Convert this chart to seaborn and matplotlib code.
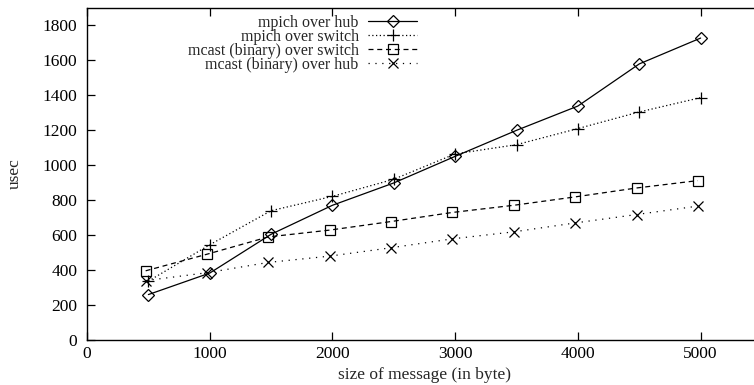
import matplotlib
matplotlib.use("Agg")
import matplotlib.pyplot as plt
import seaborn as sns
import pandas as pd

# ---- data ----
x_mpich = [500, 1000, 1500, 2000, 2500, 3000, 3500, 4000, 4500, 5000]
x_mcast = [478, 978, 1478, 1978, 2478, 2978, 3478, 3978, 4478, 4975]
mpich_hub = [260, 383, 605, 771, 899, 1051, 1200, 1339, 1580, 1728]
mpich_switch = [337, 545, 740, 822, 920, 1065, 1118, 1210, 1305, 1387]
mcast_switch = [396, 491, 590, 629, 678, 730, 771, 819, 870, 912]
mcast_hub = [340, 385, 444, 480, 528, 579, 619, 670, 718, 766]
labels = ["mpich over hub", "mpich over switch",
          "mcast (binary) over switch", "mcast (binary) over hub"]
x_ticks = [0, 1000, 2000, 3000, 4000, 5000]
y_ticks = [0, 200, 400, 600, 800, 1000, 1200, 1400, 1600, 1800]

FS = 12.5
LFS = 11.5

sns.set_theme(style="ticks")
plt.rcParams["font.family"] = ["Liberation Serif", "DejaVu Serif"]
plt.rcParams["font.size"] = FS

fig = plt.figure(figsize=(7.54, 3.85), dpi=100)
ax = fig.add_axes([87 / 754, 45 / 385, (762 - 87) / 754, (340 - 8) / 385])

series = [
    (x_mpich, mpich_hub, labels[0], "D", "-", 6.0),
    (x_mpich, mpich_switch, labels[1], "+", (0, (1, 2)), 8.0),
    (x_mcast, mcast_switch, labels[2], "s", (0, (4, 3)), 7.0),
    (x_mcast, mcast_hub, labels[3], "x", (0, (1, 4.5)), 7.0),
]
for xs, ys, lab, mk, ls, ms in series:
    df = pd.DataFrame({"x": xs, "y": ys})
    sns.lineplot(data=df, x="x", y="y", ax=ax, color="black", label=lab,
                 marker=mk, markersize=ms, markerfacecolor="none",
                 markeredgecolor="black", markeredgewidth=0.9,
                 linestyle=ls, linewidth=0.9)

ax.set_xlim(0, 5500)
ax.set_ylim(0, 1900)
ax.set_xticks(x_ticks)
ax.set_yticks(y_ticks)
ax.tick_params(direction="in", length=6, width=0.9, top=True, right=True,
               labelsize=FS, colors="black")
ax.tick_params(axis="y", pad=7)
ax.tick_params(axis="x", pad=4)
for s in ax.spines.values():
    s.set_visible(True)
    s.set_linewidth(1.0)
    s.set_color("black")

ax.set_xlabel("size of message (in byte)", fontsize=FS, labelpad=4)
ax.set_ylabel("usec", fontsize=FS, labelpad=14)

ax.legend(loc="upper right", bbox_to_anchor=((417 - 87) / 675, (340 - 15) / 332),
          markerfirst=False, frameon=False,
          fontsize=LFS, labelspacing=-0.13, handlelength=3.05, handletextpad=0.6,
          borderpad=0, borderaxespad=0)

fig.savefig("out.png", dpi=100)
